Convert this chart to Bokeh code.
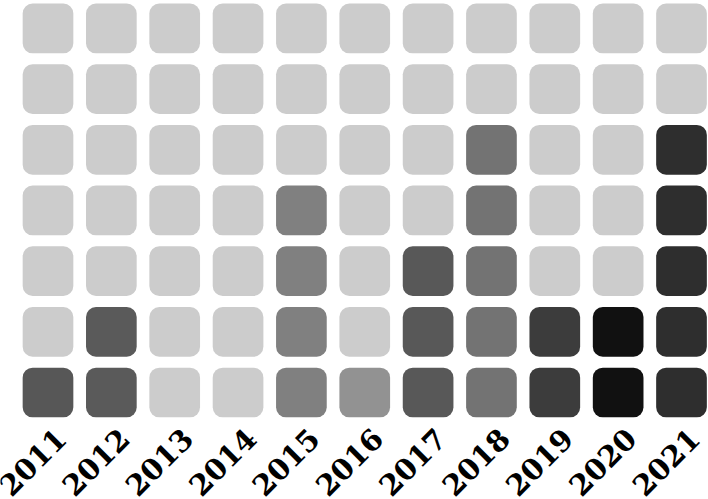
import numpy as np
from bokeh.plotting import figure
from bokeh.models import ColumnDataSource, Range1d
from bokeh.core.properties import value
from bokeh.embed import file_html
from bokeh.resources import INLINE

years = ["2011", "2012", "2013", "2014", "2015", "2016", "2017", "2018", "2019", "2020", "2021"]
filled = [1, 2, 0, 0, 4, 1, 3, 5, 2, 2, 5]
year_colors = ["#575757", "#5a5a5a", "#cccccc", "#cccccc", "#808080", "#929292",
               "#585858", "#737373", "#3c3c3c", "#111111", "#2e2e2e"]
empty_color = "#cccccc"
n_rows = 7

xs, ys, cols = [], [], []
for i, (yr, n, c) in enumerate(zip(years, filled, year_colors)):
    for r in range(n_rows):
        xs.append(i)
        ys.append(r)
        cols.append(c if r < n else empty_color)

xs = np.array(xs, dtype=float)
ys = np.array(ys, dtype=float)
hw, hh = 0.40, 0.41
src = ColumnDataSource(dict(left=xs - hw, right=xs + hw, bottom=ys - hh, top=ys + hh, color=cols))

W, H = 708, 499
p = figure(width=W, height=H, output_backend="svg", toolbar_location=None,
           x_range=Range1d((0 - 47.5) / 63.35, (W - 47.5) / 63.35),
           y_range=Range1d((392 - H) / 60.67, 392 / 60.67),
           min_border=0)
p.axis.visible = False
p.grid.visible = False
p.outline_line_color = None
p.background_fill_color = "white"

p.quad(left="left", right="right", bottom="bottom", top="top", source=src,
       fill_color="color", line_color=None, border_radius=10)

lab = ColumnDataSource(dict(x=np.arange(len(years)) + 0.20, y=[-0.67] * len(years), text=years))
p.text(x="x", y="y", text="text", source=lab, angle=np.pi / 4,
       text_align="right", text_baseline="middle",
       text_font=value("DejaVu Serif"), text_font_style="bold",
       text_font_size="29px", text_color="black")

open("out.html", "w").write(file_html(p, INLINE))
